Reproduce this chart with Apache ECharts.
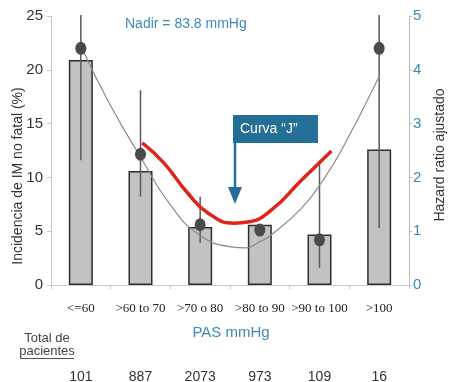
<!DOCTYPE html>
<html>
<head>
<meta charset="utf-8">
<script src="https://cdn.jsdelivr.net/npm/echarts@6/dist/echarts.min.js"></script>
<style>html,body{margin:0;padding:0;background:#fff;}#c{width:451px;height:382px;}</style>
</head>
<body>
<div id="c"></div>
<script>
// ---- data ----
const categories = ['<=60', '>60 to 70', '>70 o 80', '>80 to 90', '>90 to 100', '>100'];
const patients = ['101', '887', '2073', '973', '109', '16'];
const incidence = [20.9, 10.6, 5.4, 5.6, 4.7, 12.6];          // left axis, %
const hazardRatio = [4.4, 2.43, 1.12, 1.02, 0.84, 4.4];       // right axis
const hrLow = [2.32, 1.64, 0.78, 0.95, 0.32, 1.06];
const hrHigh = [5.02, 3.62, 1.64, 1.1, 2.27, 5.02];
// fitted curves, x in category units (category i centred at i + 0.5)
const grayCurveX = [0.51, 0.99, 1.5, 2.0, 2.49, 3.02, 3.27, 3.49, 3.69, 4.2, 4.53, 4.87, 5.51];
const grayCurveY = [4.42, 3.35, 2.38, 1.49, 0.93, 0.71, 0.69, 0.8, 0.93, 1.43, 1.9, 2.51, 3.9];
const redCurveX = [1.53, 1.89, 2.29, 2.63, 3.07, 3.3, 3.69, 4.2, 4.7];
const redCurveY = [2.64, 2.27, 1.71, 1.34, 1.15, 1.17, 1.39, 1.95, 2.49];
const leftTicks = {min: 0, max: 25, interval: 5};
const rightTicks = {min: 0, max: 5, interval: 1};

const blue = '#3d89b4';
const calloutBlue = '#236f95';
const sans = '"Liberation Sans", Arial, Helvetica, sans-serif';

const chart = echarts.init(document.getElementById('c'), null, {renderer: 'canvas'});
chart.setOption({
  animation: false,
  backgroundColor: '#fff',
  grid: {left: 51, right: 42, top: 16, bottom: 97, containLabel: false, outerBoundsMode: 'none'},
  xAxis: [
    {
      type: 'category', data: categories, gridIndex: 0,
      axisLine: {lineStyle: {color: '#c8c8c8', width: 1}},
      axisTick: {show: true, length: 4, lineStyle: {color: '#c8c8c8'}},
      axisLabel: {color: '#222', fontFamily: '"Liberation Serif", "Times New Roman", serif', fontSize: 13, margin: 17, interval: 0},
      splitLine: {show: false}
    },
    {type: 'value', min: 0, max: 6, show: false, gridIndex: 0},
    {
      type: 'category', data: patients, gridIndex: 0, position: 'bottom', offset: 80,
      axisLine: {show: false}, axisTick: {show: false},
      axisLabel: {color: '#333', fontFamily: sans, fontSize: 14, margin: 5, interval: 0}
    }
  ],
  yAxis: [
    {
      type: 'value', min: leftTicks.min, max: leftTicks.max, interval: leftTicks.interval,
      axisLine: {show: true, lineStyle: {color: '#c8c8c8'}},
      axisTick: {show: true, length: 4, lineStyle: {color: '#c8c8c8'}},
      axisLabel: {color: '#333', fontFamily: sans, fontSize: 15, margin: 8},
      splitLine: {show: false}
    },
    {
      type: 'value', position: 'right', min: rightTicks.min, max: rightTicks.max, interval: rightTicks.interval,
      axisLine: {show: true, lineStyle: {color: '#bdbdbd'}},
      axisTick: {show: true, length: 3, lineStyle: {color: '#bdbdbd'}},
      axisLabel: {color: blue, fontFamily: sans, fontSize: 15, margin: 4},
      splitLine: {show: false}
    }
  ],
  series: [
    {
      type: 'bar', data: incidence, xAxisIndex: 0, yAxisIndex: 0, barWidth: 24,
      itemStyle: {color: '#c2c2c2', borderColor: '#2e2e2e', borderWidth: 1.5},
      z: 1
    },
    {
      type: 'custom', xAxisIndex: 0, yAxisIndex: 1,
      data: hazardRatio.map((v, i) => [i, hrLow[i], hrHigh[i]]),
      encode: {x: 0, y: [1, 2]},
      renderItem: function (params, api) {
        const lo = api.coord([api.value(0), api.value(1)]);
        const hi = api.coord([api.value(0), api.value(2)]);
        return {type: 'line', shape: {x1: lo[0], y1: lo[1], x2: hi[0], y2: hi[1]},
                style: {stroke: '#5a5a5a', lineWidth: 1.5}};
      },
      z: 2
    },
    {
      type: 'line', xAxisIndex: 1, yAxisIndex: 1, smooth: true, symbol: 'none',
      data: grayCurveX.map((x, i) => [x, grayCurveY[i]]),
      lineStyle: {color: '#8a8a8a', width: 1.2}, z: 3
    },
    {
      type: 'scatter', xAxisIndex: 0, yAxisIndex: 1, data: hazardRatio,
      symbol: 'circle', symbolSize: [11, 13],
      itemStyle: {color: '#4a4a4a', opacity: 1}, z: 4
    },
    {
      type: 'line', xAxisIndex: 1, yAxisIndex: 1, smooth: true, symbol: 'none',
      data: redCurveX.map((x, i) => [x, redCurveY[i]]),
      lineStyle: {color: '#e0241c', width: 3.5}, z: 5
    }
  ],
  graphic: [
    {type: 'text', x: 18, y: 176, rotation: Math.PI / 2, z: 10,
     style: {text: 'Incidencia de IM no fatal (%)', fill: '#333', font: '14px ' + sans,
             textAlign: 'center', textVerticalAlign: 'middle', align: 'center', verticalAlign: 'middle'}},
    {type: 'text', x: 440, y: 155, rotation: Math.PI / 2, z: 10,
     style: {text: 'Hazard ratio ajustado', fill: '#333', font: '14px ' + sans,
             textAlign: 'center', textVerticalAlign: 'middle', align: 'center', verticalAlign: 'middle'}},
    {type: 'text', x: 125, y: 24, z: 10,
     style: {text: 'Nadir = 83.8 mmHg', fill: blue, font: '14px ' + sans,
             textAlign: 'left', textVerticalAlign: 'middle', align: 'left', verticalAlign: 'middle'}},
    {type: 'text', x: 231, y: 333, z: 10,
     style: {text: 'PAS mmHg', fill: blue, font: '15px ' + sans,
             textAlign: 'center', textVerticalAlign: 'middle', align: 'center', verticalAlign: 'middle'}},
    {type: 'text', x: 47, y: 338, z: 10,
     style: {text: 'Total de', fill: '#444', font: '13px ' + sans,
             textAlign: 'center', textVerticalAlign: 'middle', align: 'center', verticalAlign: 'middle'}},
    {type: 'text', x: 47, y: 351, z: 10,
     style: {text: 'pacientes', fill: '#444', font: '13px ' + sans,
             textAlign: 'center', textVerticalAlign: 'middle', align: 'center', verticalAlign: 'middle'}},
    {type: 'line', z: 10, shape: {x1: 20, y1: 358.5, x2: 74, y2: 358.5}, style: {stroke: '#555', lineWidth: 1}},
    // callout
    {type: 'rect', z: 10, shape: {x: 233, y: 115, width: 85, height: 28}, style: {fill: calloutBlue}},
    {type: 'text', x: 240, y: 129.5, z: 11,
     style: {text: 'Curva \u201cJ\u201d', fill: '#fff', font: '14px ' + sans,
             textAlign: 'left', textVerticalAlign: 'middle', align: 'left', verticalAlign: 'middle'}},
    {type: 'line', z: 10, shape: {x1: 235, y1: 140, x2: 235, y2: 190}, style: {stroke: calloutBlue, lineWidth: 2.5}},
    {type: 'polygon', z: 10, shape: {points: [[228, 187], [242, 187], [235, 204]]}, style: {fill: calloutBlue}}
  ]
});
</script>
</body>
</html>
